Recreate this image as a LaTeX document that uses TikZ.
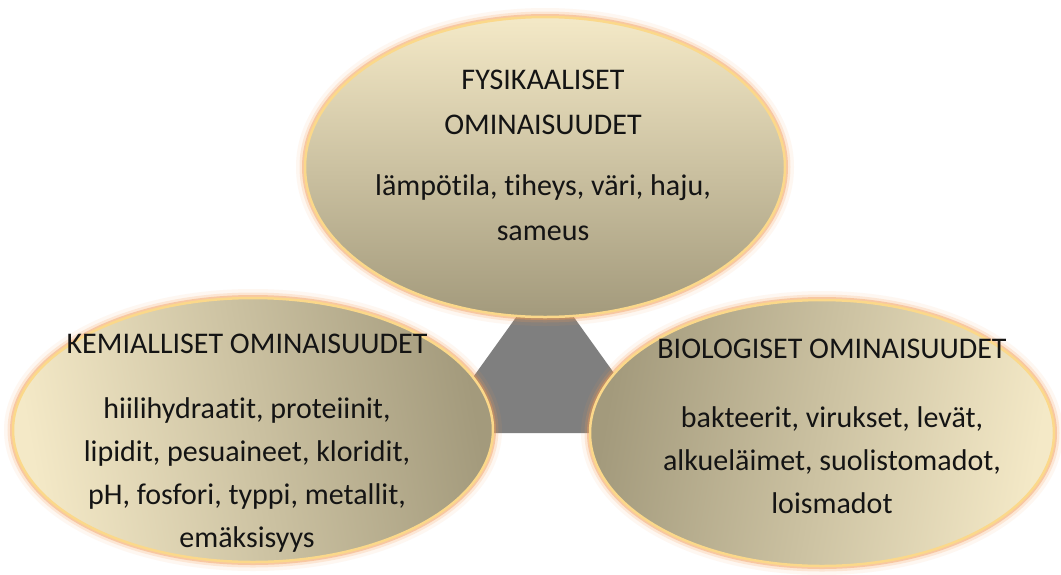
\documentclass[tikz,border=0pt]{standalone}
\usepackage{fontspec}
\setmainfont{Carlito}[Ligatures=NoCommon]
\usetikzlibrary{shapes.geometric}
\definecolor{lightc}{HTML}{F4E9C7}
\definecolor{darkc}{HTML}{A39A7C}
\definecolor{glowc}{HTML}{F39A55}
\definecolor{edgec}{HTML}{FBD88A}
\definecolor{trigray}{HTML}{7F7F7F}
\definecolor{txt}{HTML}{141414}
\tikzset{
 oval/.style={ellipse, inner sep=0pt, outer sep=0pt,
   preaction={draw=glowc, draw opacity=0.08, line width=18pt},
   preaction={draw=glowc, draw opacity=0.18, line width=11pt},
   preaction={draw=glowc, draw opacity=0.40, line width=6pt},
   draw=edgec, line width=2.5pt, top color=lightc, bottom color=darkc},
 lbl/.style={anchor=base, text=txt, font=\fontsize{30}{36}\selectfont, inner sep=0pt}
}
\begin{document}
\begin{tikzpicture}[x=1pt,y=-1pt]
\useasboundingbox (0,0) rectangle (1061,574);
\fill[white] (0,0) rectangle (1061,574);
% triangle
\coordinate (tA) at (545,277);
\coordinate (tB) at (433,433);
\coordinate (tC) at (657,433);
\fill[trigray] (tA) -- (tB) -- (tC) -- cycle;
% ellipses
\node[oval, minimum width=480pt, minimum height=264pt, shading angle=100] (left) at (253,430) {};
\node[oval, minimum width=464pt, minimum height=266pt, shading angle=260] (right) at (822,433) {};
\node[oval, minimum width=480pt, minimum height=300pt] (top) at (545,167) {};
% top text
\node[lbl] (t1) at (543,89) {FYSIKAALISET};
\node[lbl] (t2) at (543,134) {OMINAISUUDET};
\node[lbl] (t3) at (543,195) {lämpötila, tiheys, väri, haju,};
\node[lbl] (t4) at (543,240) {sameus};
% left text
\node[lbl] (l1) at (247,353) {KEMIALLISET OMINAISUUDET};
\node[lbl] (l2) at (247,418) {hiilihydraatit, proteiinit,};
\node[lbl] (l3) at (247,461) {lipidit, pesuaineet, kloridit,};
\node[lbl] (l4) at (247,504) {pH, fosfori, typpi, metallit,};
\node[lbl] (l5) at (247,547) {emäksisyys};
% right text
\node[lbl] (r1) at (832,358) {BIOLOGISET OMINAISUUDET};
\node[lbl] (r2) at (832,427) {bakteerit, virukset, levät,};
\node[lbl] (r3) at (832,470) {alkueläimet, suolistomadot,};
\node[lbl] (r4) at (832,513) {loismadot};
\end{tikzpicture}
\end{document}
